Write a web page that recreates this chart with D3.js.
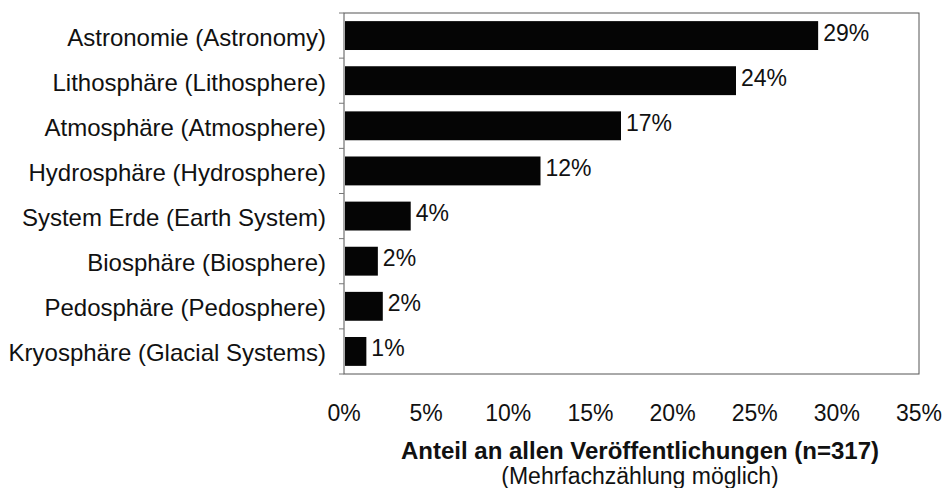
<!DOCTYPE html>
<html>
<head>
<meta charset="utf-8">
<script src="https://cdn.jsdelivr.net/npm/d3@7"></script>
<style>
  body { margin: 0; background: #fff; }
  text { font-family: "Liberation Sans", Arial, sans-serif; fill: #111; }
</style>
</head>
<body>
<svg></svg>
<script>
const W = 946, H = 488;
const M = { left: 344, top: 13, right: 27, bottom: 114 };

const categories = [
  "Astronomie (Astronomy)",
  "Lithosphäre (Lithosphere)",
  "Atmosphäre (Atmosphere)",
  "Hydrosphäre (Hydrosphere)",
  "System Erde (Earth System)",
  "Biosphäre (Biosphere)",
  "Pedosphäre (Pedosphere)",
  "Kryosphäre (Glacial Systems)"
];
const values = [28.8, 23.8, 16.8, 11.9, 4.0, 2.0, 2.3, 1.3];
const labels = ["29%", "24%", "17%", "12%", "4%", "2%", "2%", "1%"];
const ticks = [0, 5, 10, 15, 20, 25, 30, 35];

const svg = d3.select("svg").attr("width", W).attr("height", H);

const x = d3.scaleLinear().domain([0, 35]).range([M.left, W - M.right]);
const y = d3.scaleBand().domain(categories).range([M.top, H - M.bottom]).paddingInner(0.36).paddingOuter(0.18);

// frame
svg.append("rect")
  .attr("x", M.left).attr("y", M.top)
  .attr("width", W - M.right - M.left).attr("height", H - M.bottom - M.top)
  .attr("fill", "none").attr("stroke", "#555").attr("stroke-width", 1);

// small tick marks on the category axis
const step = (H - M.bottom - M.top) / categories.length;
svg.selectAll(".ytick").data(d3.range(categories.length + 1)).enter().append("line")
  .attr("x1", M.left - 5).attr("x2", M.left)
  .attr("y1", i => M.top + i * step).attr("y2", i => M.top + i * step)
  .attr("stroke", "#777");

svg.selectAll(".bar").data(values).enter().append("rect")
  .attr("x", x(0) + 1)
  .attr("y", (d, i) => y(categories[i]))
  .attr("width", d => x(d) - x(0))
  .attr("height", y.bandwidth())
  .attr("fill", "#050505");

svg.selectAll(".val").data(values).enter().append("text")
  .attr("x", d => x(d) + 6)
  .attr("y", (d, i) => y(categories[i]) + y.bandwidth() / 2 + 5)
  .attr("font-size", 23)
  .text((d, i) => labels[i]);

svg.selectAll(".cat").data(categories).enter().append("text")
  .attr("x", 326)
  .attr("y", d => y(d) + y.bandwidth() / 2 + 10)
  .attr("text-anchor", "end")
  .attr("font-size", 24)
  .text(d => d);

svg.selectAll(".xt").data(ticks).enter().append("text")
  .attr("x", d => x(d))
  .attr("y", 421)
  .attr("text-anchor", "middle")
  .attr("font-size", 23)
  .text(d => d + "%");

svg.append("text")
  .attr("x", 640).attr("y", 459)
  .attr("text-anchor", "middle")
  .attr("font-size", 24).attr("font-weight", "bold")
  .text("Anteil an allen Veröffentlichungen (n=317)");

svg.append("text")
  .attr("x", 640).attr("y", 484)
  .attr("text-anchor", "middle")
  .attr("font-size", 23)
  .text("(Mehrfachzählung möglich)");
</script>
</body>
</html>
